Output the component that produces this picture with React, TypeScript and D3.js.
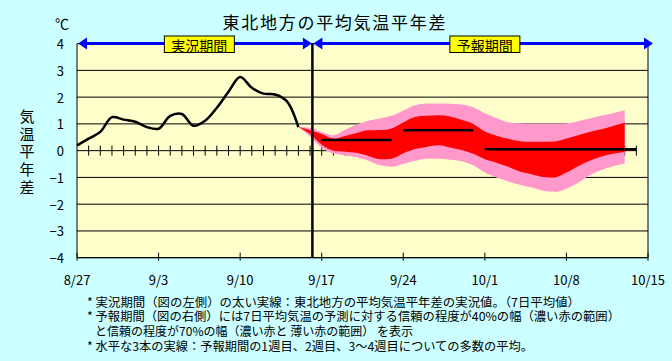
import React from 'react';
import * as d3 from 'd3';

const width = 672;
const height = 361;
const plot = { left: 77, right: 648, top: 43.6, bottom: 257.7 };
const font = '"Noto Sans CJK JP", "Noto Sans", sans-serif';

// days counted from 8/27
const xTicks = [0, 7, 14, 21, 28, 35, 42, 49];
const xTickLabels = ['8/27', '9/3', '9/10', '9/17', '9/24', '10/1', '10/8', '10/15'];
const yTicks = [4, 3, 2, 1, 0, -1, -2, -3, -4];

// observed 7-day mean anomaly, day 0..19
const observed = [0.2, 0.45, 0.7, 1.25, 1.16, 1.08, 0.88, 0.82, 1.3, 1.37, 0.93, 1.12, 1.6, 2.2, 2.75, 2.35, 2.13, 2.1, 1.85, 0.88];

// forecast bands, day 19..47
const bandStart = 19;
const pinkUpper = [0.88, 0.86, 0.70, 0.58, 0.78, 0.98, 1.12, 1.20, 1.30, 1.50, 1.70, 1.76, 1.76, 1.75, 1.72, 1.62, 1.40, 1.22, 1.06, 1.02, 1.01, 1.01, 1.01, 1.02, 1.10, 1.20, 1.30, 1.40, 1.51];
const redUpper = [0.88, 0.76, 0.62, 0.45, 0.55, 0.66, 0.76, 0.77, 0.83, 1.05, 1.26, 1.30, 1.32, 1.28, 1.15, 1.00, 0.72, 0.56, 0.44, 0.35, 0.33, 0.33, 0.34, 0.45, 0.58, 0.70, 0.80, 0.92, 1.04];
const redLower = [0.88, 0.62, 0.22, 0.0, -0.04, -0.08, -0.20, -0.32, -0.30, -0.10, 0.06, 0.14, 0.20, 0.12, 0.02, -0.12, -0.32, -0.45, -0.60, -0.78, -0.88, -0.98, -1.00, -0.82, -0.58, -0.38, -0.22, -0.12, -0.05];
const pinkLower = [0.88, 0.52, 0.10, -0.10, -0.18, -0.25, -0.38, -0.55, -0.60, -0.50, -0.38, -0.30, -0.30, -0.34, -0.40, -0.55, -0.82, -1.00, -1.15, -1.27, -1.38, -1.50, -1.54, -1.42, -1.20, -0.92, -0.72, -0.58, -0.48];

// week 1, week 2, week 3-4 means
const meanFrom = [21, 28, 35];
const meanTo = [27, 34, 48];
const meanValue = [0.4, 0.76, 0.05];

const dividerDay = 20.2;
const periodLabels = ['実況期間', '予報期間'];
const periodLabelDays = [10.5, 35];
const yTitle = '気温平年差';
const notes = [
  '* 実況期間（図の左側）の太い実線：東北地方の平均気温平年差の実況値。（7日平均値）',
  '* 予報期間（図の右側）には7日平均気温の予測に対する信頼の程度が40%の幅（濃い赤の範囲）',
  'と信頼の程度が70%の幅（濃い赤と 薄い赤の範囲） を表示',
  '* 水平な3本の実線：予報期間の1週目、2週目、3～4週目についての多数の平均。',
];
const noteX = [87, 87, 95, 87];
const noteLen = [493, 533, 318, 446];

export default function App() {
  const x = d3.scaleLinear().domain([0, 49]).range([plot.left, plot.right]);
  const y = d3.scaleLinear().domain([-4, 4]).range([plot.bottom, plot.top]);

  const obsLine = d3.line<number>()
    .x((_, i) => x(i))
    .y((d) => y(d))
    .curve(d3.curveCatmullRom.alpha(0.5));

  const bandDays = pinkUpper.map((_, i) => bandStart + i);
  const area = (lo: number[], hi: number[]) => d3.area<number>()
    .x((d) => x(d))
    .y0((_, i) => y(lo[i]))
    .y1((_, i) => y(hi[i]))
    .curve(d3.curveMonotoneX)(bandDays) || '';

  const dayTicks = d3.range(1, 49);
  const ay = y(4);
  const xd = x(dividerDay);
  const head = (tip: number, dir: number) =>
    `M${tip},${ay} L${tip - dir * 9},${ay - 6} L${tip - dir * 9},${ay + 6} Z`;

  return (
    <svg width={width} height={height} style={{ position: 'absolute', left: 0, top: 0 }}
      fontFamily={font}>
      <rect width={width} height={height} fill="#ccffff" />
      <rect x={plot.left} y={plot.top} width={plot.right - plot.left} height={plot.bottom - plot.top}
        fill="#ffffcc" />

      {/* grid */}
      {yTicks.filter((t) => t !== 0).map((t) => (
        <line key={t} x1={plot.left} x2={plot.right} y1={y(t)} y2={y(t)} stroke="#000" strokeWidth={1} />
      ))}
      <line x1={plot.left} x2={x(48)} y1={y(0)} y2={y(0)} stroke="#000" strokeWidth={1} />
      {dayTicks.map((d) => (
        <line key={d} x1={x(d)} x2={x(d)} y1={y(0) - 5} y2={y(0) + 5} stroke="#000" strokeWidth={1} />
      ))}

      {/* forecast bands */}
      <path d={area(pinkLower, pinkUpper)} fill="#ff99cc" />
      <path d={area(redLower, redUpper)} fill="#ff0000" />

      {/* frame and x ticks */}
      <line x1={plot.left} x2={plot.left} y1={plot.top} y2={plot.bottom} stroke="#000" />
      <line x1={plot.right} x2={plot.right} y1={plot.top} y2={plot.bottom} stroke="#000" />
      <line x1={plot.left} x2={plot.right} y1={plot.bottom} y2={plot.bottom} stroke="#000" />
      {xTicks.map((t, i) => (
        <g key={t}>
          <line x1={x(t)} x2={x(t)} y1={plot.bottom - 5} y2={plot.bottom + 3} stroke="#000" />
          <text x={x(t)} y={279} textAnchor="middle" dominantBaseline="central" fontSize={13}>
            {xTickLabels[i]}
          </text>
        </g>
      ))}
      {yTicks.map((t) => (
        <text key={t} x={64} y={y(t)} textAnchor="end" dominantBaseline="central" fontSize={13}>
          {t < 0 ? `−${-t}` : t}
        </text>
      ))}

      {/* observed */}
      <path d={obsLine(observed) || ''} fill="none" stroke="#000" strokeWidth={2.5} />

      {/* weekly means */}
      {meanValue.map((v, i) => (
        <line key={i} x1={x(meanFrom[i])} x2={x(meanTo[i])} y1={y(v)} y2={y(v)}
          stroke="#000" strokeWidth={2.5} />
      ))}

      {/* divider */}
      <line x1={xd} x2={xd} y1={ay} y2={plot.bottom} stroke="#000" strokeWidth={2.5} />

      {/* period arrows */}
      <line x1={x(0) + 4} x2={xd - 4} y1={ay} y2={ay} stroke="#0000ff" strokeWidth={3} />
      <line x1={xd + 4} x2={plot.right + 1} y1={ay} y2={ay} stroke="#0000ff" strokeWidth={3} />
      <path d={head(x(0) + 1, -1)} fill="#0000ff" />
      <path d={head(xd - 0.5, 1)} fill="#0000ff" />
      <path d={head(xd + 1, -1)} fill="#0000ff" />
      <path d={head(plot.right + 5, 1)} fill="#0000ff" />
      {periodLabels.map((l, i) => (
        <g key={l}>
          <rect x={x(periodLabelDays[i]) - 35} y={36} width={70} height={16.5}
            fill="#ffff00" stroke="#000" strokeWidth={1} />
          <text x={x(periodLabelDays[i])} y={44.5} textAnchor="middle" dominantBaseline="central"
            fontSize={14}>{l}</text>
        </g>
      ))}

      {/* titles */}
      <text x={334} y={21.5} textAnchor="middle" dominantBaseline="central" fontSize={17}
        textLength={223} lengthAdjust="spacing">東北地方の平均気温平年差</text>
      <text x={62} y={23} textAnchor="middle" dominantBaseline="central" fontSize={14}>℃</text>
      <text x={27} y={109} fontSize={15} letterSpacing={2.6}
        style={{ writingMode: 'vertical-rl' }}>{yTitle}</text>

      {/* notes */}
      <text fontSize={12} dominantBaseline="central">
        {notes.map((n, i) => (
          <tspan key={i} x={noteX[i]} y={300.7 + i * 14.7}
            textLength={noteLen[i]} lengthAdjust="spacingAndGlyphs">{n}</tspan>
        ))}
      </text>
    </svg>
  );
}
